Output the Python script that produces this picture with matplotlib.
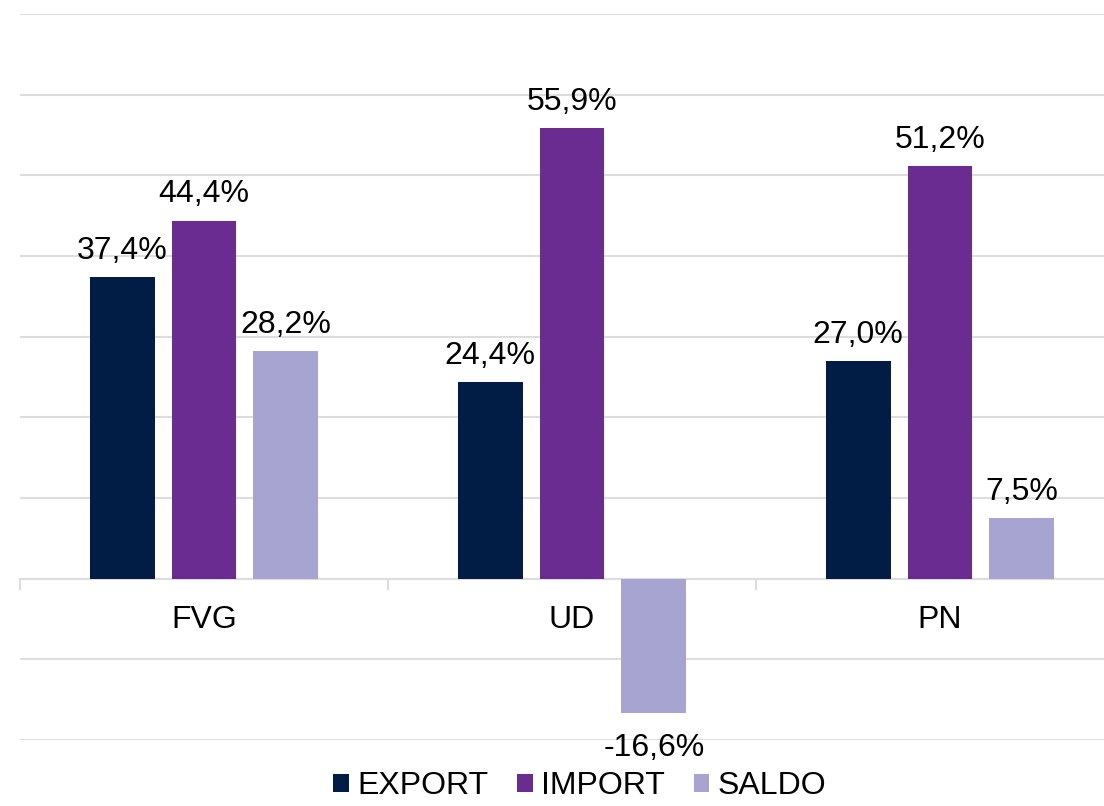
import matplotlib.pyplot as plt
import numpy as np

plt.rcParams['font.family'] = ['Liberation Sans', 'DejaVu Sans']

# Data
categories = ['FVG', 'UD', 'PN']
series_names = ['EXPORT', 'IMPORT', 'SALDO']
export_vals = [37.4, 24.4, 27.0]
import_vals = [44.4, 55.9, 51.2]
saldo_vals = [28.2, -16.6, 7.5]
colors = ['#011C45', '#6A2C91', '#A7A4D1']

fig = plt.figure(figsize=(11.04, 8.06), dpi=100)
ax = fig.add_axes([20 / 1104, 66 / 806, 1104 / 1104, 726 / 806])

x = np.arange(len(categories))
width = 0.1766
step = 0.2228
fs = 23

for i, (name, vals) in enumerate(zip(series_names, [export_vals, import_vals, saldo_vals])):
    pos = x + (i - 1) * step
    bars = ax.bar(pos, vals, width, color=colors[i], label=name, zorder=3)
    for b, v in zip(bars, vals):
        lbl = f'{v:.1f}%'.replace('.', ',')
        if v >= 0:
            ax.annotate(lbl, (b.get_x() + b.get_width() / 2, v), xytext=(0, 8),
                        textcoords='offset points', ha='center', va='bottom', fontsize=fs)
        else:
            ax.annotate(lbl, (b.get_x() + b.get_width() / 2, v), xytext=(0, -15),
                        textcoords='offset points', ha='center', va='top', fontsize=fs)

ax.set_xlim(-0.5, 2.5)
ax.set_ylim(-20, 70)
ax.set_yticks(np.arange(-20, 71, 10))
ax.yaxis.grid(True, color='#DDDDDD', linewidth=1.5, zorder=0)
ax.tick_params(axis='y', length=0, labelleft=False)

for s in ['top', 'right', 'left']:
    ax.spines[s].set_visible(False)
ax.spines['bottom'].set_position(('data', 0))
ax.spines['bottom'].set_color('#DDDDDD')
ax.spines['bottom'].set_linewidth(1.5)
ax.spines['bottom'].set_zorder(2)

ax.set_xticks(x)
ax.set_xticklabels(categories, fontsize=fs)
ax.set_xticks([-0.5, 0.5, 1.5, 2.5], minor=True)
ax.tick_params(axis='x', which='major', length=0, pad=19)
ax.tick_params(axis='x', which='minor', length=8, width=1.5, color='#DDDDDD')

fig.legend(loc='lower center', bbox_to_anchor=(0.525, -0.03), ncol=3, frameon=False,
           fontsize=fs, handlelength=0.5, handleheight=0.5, handletextpad=0.25,
           columnspacing=0.9)

fig.savefig('out.png', dpi=100)
